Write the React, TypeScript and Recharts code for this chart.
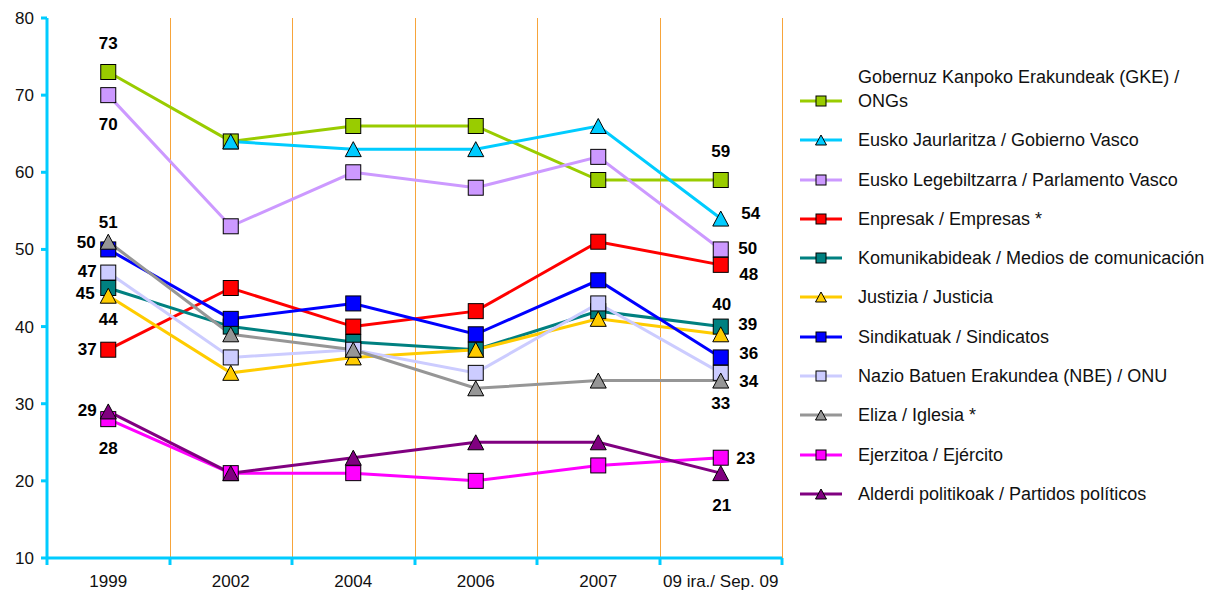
import { CartesianGrid, LabelList, Legend, Line, LineChart, XAxis, YAxis } from "recharts";

const FONT = '"Liberation Sans", Arial, Helvetica, sans-serif';
const AXIS = "#00CCFF";
const GRID = "#F7A43A";

const categories = ["1999", "2002", "2004", "2006", "2007", "09 ira./ Sep. 09"];
const yTicks = [10, 20, 30, 40, 50, 60, 70, 80];

const gke = [73, 64, 66, 66, 59, 59];
const gobierno = [null, 64, 63, 63, 66, 54];
const parlamento = [70, 53, 60, 58, 62, 50];
const empresas = [37, 45, 40, 42, 51, 48];
const medios = [45, 40, 38, 37, 42, 40];
const justicia = [44, 34, 36, 37, 41, 39];
const sindicatos = [50, 41, 43, 39, 46, 36];
const onu = [47, 36, 37, 34, 43, 34];
const iglesia = [51, 39, 37, 32, 33, 33];
const ejercito = [28, 21, 21, 20, 22, 23];
const partidos = [29, 21, 23, 25, 25, 21];

// label offsets [dx, dy] for the first and last point, null = no label
const series = [
  { key: "gke", name: "Gobernuz Kanpoko Erakundeak (GKE) / ONGs", values: gke, color: "#99CC00", shape: "square", first: [0, -29], last: [0, -29] },
  { key: "gobierno", name: "Eusko Jaurlaritza / Gobierno Vasco", values: gobierno, color: "#00CCFF", shape: "triangle", first: null, last: [30, -5] },
  { key: "parlamento", name: "Eusko Legebiltzarra / Parlamento Vasco", values: parlamento, color: "#CC99FF", shape: "square", first: [0, 29], last: [27, -1] },
  { key: "empresas", name: "Enpresak / Empresas *", values: empresas, color: "#FF0000", shape: "square", first: [-21, 0], last: [28, 10] },
  { key: "medios", name: "Komunikabideak / Medios de comunicación", values: medios, color: "#008080", shape: "square", first: [-23, 5], last: [1, -22] },
  { key: "justicia", name: "Justizia / Justicia", values: justicia, color: "#FFCC00", shape: "triangle", first: [0, 24], last: [27, -10] },
  { key: "sindicatos", name: "Sindikatuak / Sindicatos", values: sindicatos, color: "#0000FF", shape: "square", first: [-22, -7], last: [28, -4] },
  { key: "onu", name: "Nazio Batuen Erakundea (NBE) / ONU", values: onu, color: "#CCCCFF", shape: "square", first: [-21, -1], last: [28, 9] },
  { key: "iglesia", name: "Eliza / Iglesia *", values: iglesia, color: "#969696", shape: "triangle", first: [0, -19], last: [0, 23] },
  { key: "ejercito", name: "Ejerzitoa / Ejército", values: ejercito, color: "#FF00FF", shape: "square", first: [0, 29], last: [25, 1] },
  { key: "partidos", name: "Alderdi politikoak / Partidos políticos", values: partidos, color: "#800080", shape: "triangle", first: [-21, -1], last: [1, 32] },
];

const data = categories.map((year, i) => {
  const row: Record<string, any> = { year };
  series.forEach((s) => (row[s.key] = s.values[i]));
  return row;
});

const PLOT_LEFT = 47;
const PLOT_RIGHT = 782;
const PLOT_W = PLOT_RIGHT - PLOT_LEFT;

function Marker({ cx, cy, shape, fill, size }: any) {
  if (cx == null || cy == null || isNaN(cy)) return null;
  if (shape === "square") {
    return (
      <rect x={cx - size / 2} y={cy - size / 2} width={size} height={size} fill={fill} stroke="#000" strokeWidth={1} />
    );
  }
  const w = size + 1;
  const h = size;
  return (
    <polygon
      points={`${cx},${cy - h / 2} ${cx - w / 2},${cy + h / 2} ${cx + w / 2},${cy + h / 2}`}
      fill={fill}
      stroke="#000"
      strokeWidth={1}
    />
  );
}

function ValueLabel(props: any) {
  const { index, value, s } = props;
  const x = props.x ?? props.viewBox?.x;
  const y = props.y ?? props.viewBox?.y;
  if (value == null || x == null || y == null) return null;
  const off = index === 0 ? s.first : index === categories.length - 1 ? s.last : null;
  if (!off) return null;
  return (
    <text
      x={x + off[0]}
      y={y + off[1]}
      textAnchor="middle"
      dominantBaseline="central"
      fontFamily={FONT}
      fontSize={17}
      fontWeight="bold"
      fill="#000"
    >
      {value}
    </text>
  );
}

function CategoryTick({ x, y, payload, index }: any) {
  const half = PLOT_W / categories.length / 2;
  const left = Math.round(x - half);
  const right = Math.round(x + half);
  return (
    <g>
      <line x1={left} x2={left} y1={y} y2={y + 7} stroke={AXIS} strokeWidth={3} />
      {index === categories.length - 1 && (
        <line x1={right} x2={right} y1={y} y2={y + 7} stroke={AXIS} strokeWidth={3} />
      )}
      <text x={x} y={y + 23} textAnchor="middle" dominantBaseline="central" fontFamily={FONT} fontSize={17} fill="#111">
        {payload.value}
      </text>
    </g>
  );
}

function LegendBlock() {
  return (
    <div style={{ fontFamily: FONT, fontSize: 18, color: "#111" }}>
      {series.map((s) => (
        <div key={s.key} style={{ display: "flex", alignItems: "flex-end", marginBottom: 15.3 }}>
          <svg width={42} height={24} style={{ flex: "none" }}>
            <line x1={0} x2={42} y1={12} y2={12} stroke={s.color} strokeWidth={3} />
            <Marker cx={21} cy={12} shape={s.shape} fill={s.color} size={10} />
          </svg>
          <div style={{ marginLeft: 16, width: 362, lineHeight: "24px" }}>{s.name}</div>
        </div>
      ))}
    </div>
  );
}

export default function App() {
  return (
    <div style={{ position: "absolute", left: 0, top: 0, width: 1226, height: 594, background: "#fff" }}>
      <LineChart width={1226} height={594} data={data} margin={{ top: 18, right: 444, bottom: 0, left: 7 }}>
        <CartesianGrid
          horizontal={false}
          stroke={GRID}
          strokeWidth={1}
          verticalCoordinatesGenerator={({ offset }: any) =>
            categories.map((_, i) => Math.round(offset.left + ((i + 1) * offset.width) / categories.length) + 0.5)
          }
        />
        <XAxis
          dataKey="year"
          scale="band"
          interval={0}
          height={36}
          tickSize={0}
          tickMargin={0}
          tickLine={false}
          axisLine={{ stroke: AXIS, strokeWidth: 3 }}
          tick={<CategoryTick />}
        />
        <YAxis
          domain={[10, 80]}
          ticks={yTicks}
          width={40}
          tickSize={6}
          tickMargin={7}
          axisLine={{ stroke: AXIS, strokeWidth: 3 }}
          tickLine={{ stroke: AXIS, strokeWidth: 3 }}
          tick={{ fontFamily: FONT, fontSize: 17, fill: "#111" }}
        />
        <Legend
          layout="vertical"
          align="center"
          verticalAlign="middle"
          wrapperStyle={{ left: 800, top: 65, width: 426 }}
          content={() => <LegendBlock />}
        />
        {series.map((s) => (
          <Line
            key={s.key}
            dataKey={s.key}
            name={s.name}
            type="linear"
            stroke={s.color}
            strokeWidth={3}
            connectNulls={false}
            activeDot={false}
            isAnimationActive={false}
            dot={(p: any) => (
              <Marker key={`${s.key}-${p.index}`} cx={p.cx} cy={p.cy} shape={s.shape} fill={s.color} size={15} />
            )}
          >
            <LabelList dataKey={s.key} content={(p: any) => <ValueLabel {...p} s={s} />} />
          </Line>
        ))}
      </LineChart>
    </div>
  );
}
